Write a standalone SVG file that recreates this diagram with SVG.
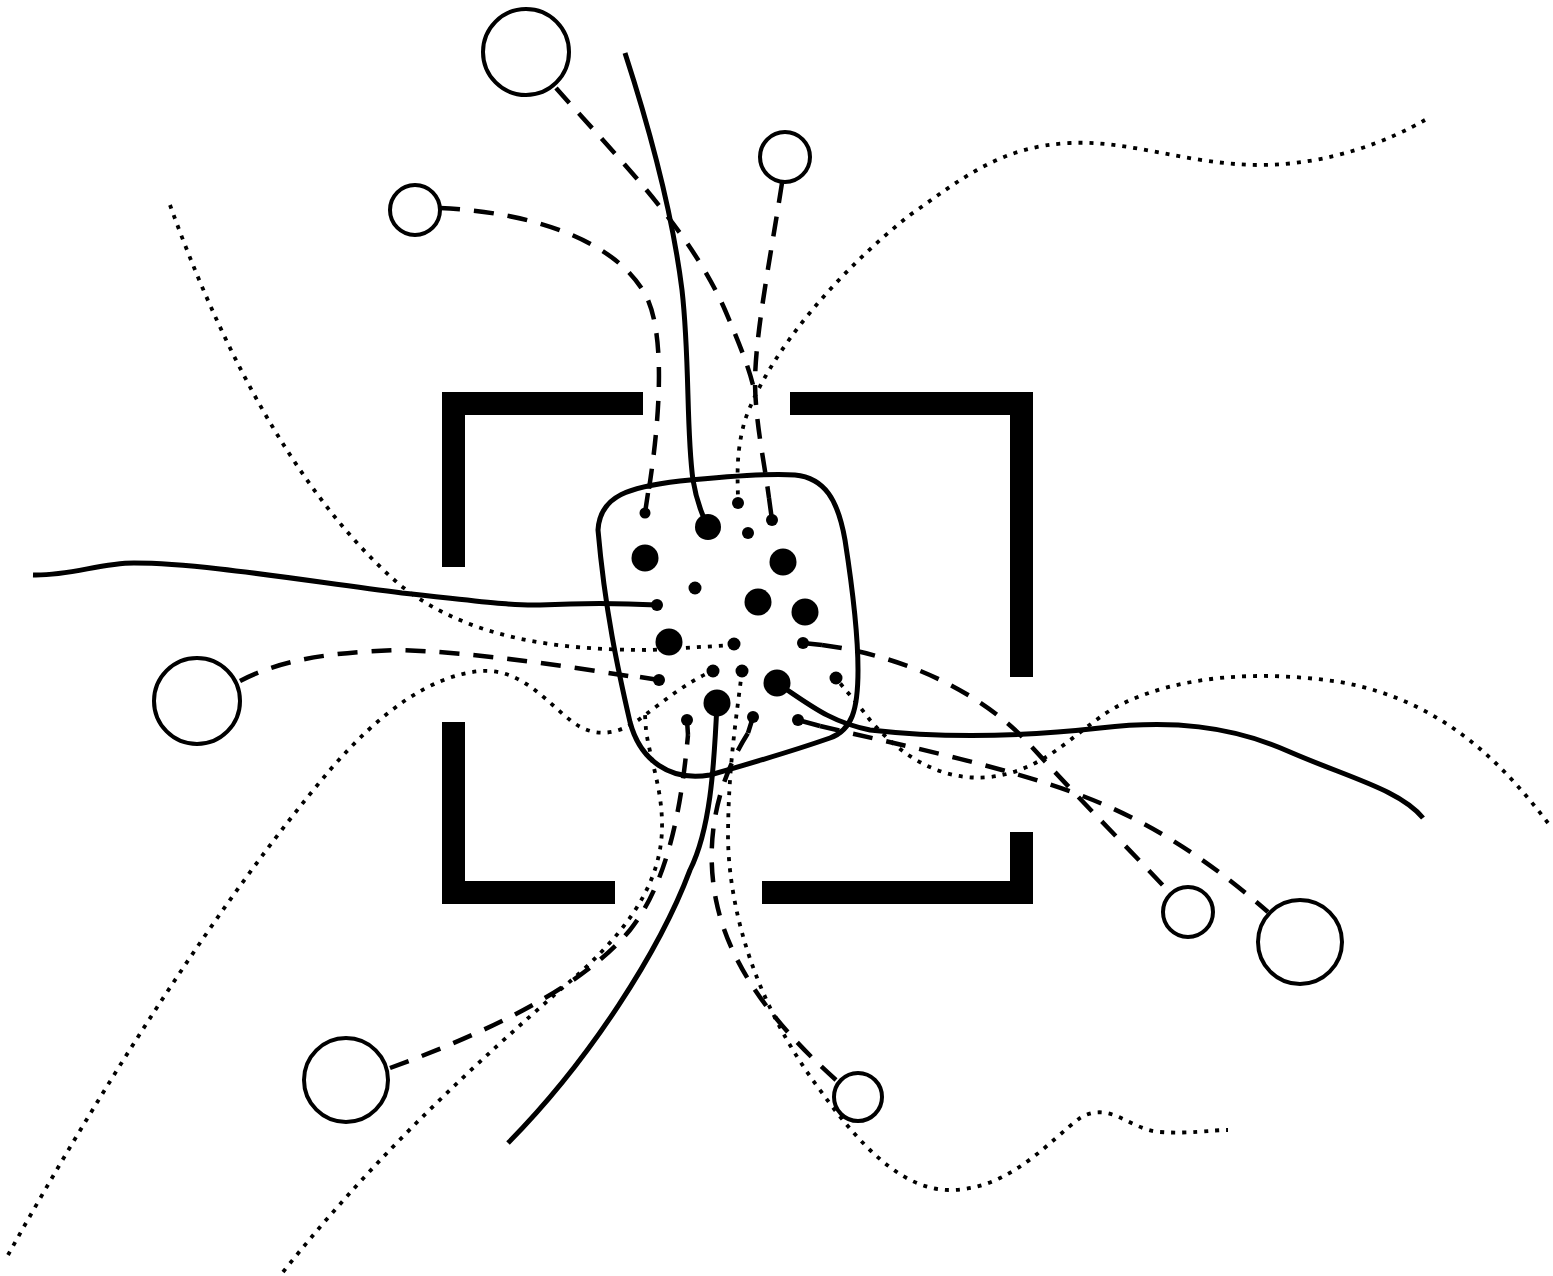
<svg xmlns="http://www.w3.org/2000/svg" width="1553" height="1276" viewBox="0 0 1553 1276">
<style>
.bk{fill:#000}
.node{fill:#fff;stroke:#000;stroke-width:4}
.dot{fill:#000}
.solid{fill:none;stroke:#000;stroke-width:5;stroke-linecap:butt}
.stem{fill:none;stroke:#000;stroke-width:4.5}
.dash{fill:none;stroke:#000;stroke-width:4.5;stroke-dasharray:20 14}
.dots{fill:none;stroke:#000;stroke-width:3.8;stroke-dasharray:4 7}
.blob{fill:none;stroke:#000;stroke-width:5}
</style>
<rect width="1553" height="1276" fill="#fff"/>
<g id="frame">
<path class="bk" d="M442,392H643V415H465V567H442Z"/>
<path class="bk" d="M790,392H1033V677H1010V415H790Z"/>
<path class="bk" d="M442,722H465V881H615V904H442Z"/>
<path class="bk" d="M762,881H1010V832H1033V904H762Z"/>
</g>
<g id="cell">
<path class="blob" d="M598,530 C600,495 630,487 680,481 C730,476 770,473 795,475 C825,478 838,500 845,540 C852,585 858,630 858,670 C858,710 852,730 830,738 C790,752 745,765 710,775 C670,782 640,760 630,722 C618,670 605,610 598,530 Z"/>
</g>
<g id="connectors">
<!-- dotted -->
<path class="dots" d="M1425,120 C1390,140 1330,165 1260,165 C1190,165 1130,140 1070,143 C1000,146 960,180 910,215 C840,270 770,350 745,420 C735,455 738,480 738,503"/>
<path class="dots" d="M170,205 C215,330 290,490 400,585 C470,640 560,650 650,650 L734,645"/>
<path class="dots" d="M8,1255 C100,1090 220,900 330,770 C380,712 430,676 480,671 C520,668 545,700 570,720 C595,740 620,735 645,715 C665,700 690,680 713,671"/>
<path class="dots" d="M283,1272 C380,1150 480,1060 560,990 C620,940 660,890 662,830 C663,790 650,760 646,730 L645,715"/>
<path class="dots" d="M742,671 C736,720 728,770 728,840 C730,920 760,1010 820,1090 C870,1160 910,1190 950,1190 C1010,1190 1050,1140 1080,1118 C1110,1100 1130,1130 1160,1132 C1190,1134 1210,1130 1228,1130"/>
<path class="dots" d="M1548,823 C1500,760 1440,700 1340,682 C1260,670 1180,675 1120,705 C1080,725 1050,770 990,777 C940,782 900,755 870,720 C855,700 845,690 836,678"/>
<!-- dashed -->
<path class="dash" d="M556,88 C620,160 690,230 725,310 C740,345 752,375 755,395"/>
<path class="dash" d="M782,183 C770,260 756,330 755,380 C755,420 764,460 769,498"/>
<path class="dash" d="M440,208 C530,212 620,240 648,300 C665,340 660,420 648,495"/>
<path class="dash" d="M240,681 C280,660 330,652 400,650 C470,652 560,665 640,678"/>
<path class="dash" d="M390,1068 C480,1035 580,990 630,930 C670,880 682,800 688,735"/>
<path class="dash" d="M836,1080 C780,1030 730,970 716,900 C706,850 712,790 748,733"/>
<path class="dash" d="M822,645 C900,655 980,690 1030,745 C1080,800 1130,850 1170,893"/>
<path class="dash" d="M820,726 C900,745 1000,765 1080,795 C1160,825 1220,870 1268,912"/>
<!-- stems -->
<path class="stem" d="M645,513 L648,493 M772,520 L769,498 M803,643 L822,645 M659,680 L640,677 M687,720 L688,735 M753,717 L748,733 M798,720 L820,726"/>
<!-- solid -->
<path class="solid" d="M625,53 C650,130 672,210 682,290 C690,360 686,430 693,480 Q697,505 708,527"/>
<path class="solid" d="M33,575 C70,576 100,563 134,563 C200,563 300,580 402,593 C470,600 510,606 540,605 C580,603 620,603 657,605"/>
<path class="solid" d="M777,683 C810,705 830,722 870,730 C940,738 1020,737 1100,728 C1170,720 1230,725 1290,752 C1350,778 1400,790 1423,818"/>
<path class="solid" d="M717,703 C714,770 710,830 690,870 C660,950 590,1060 508,1143"/>
</g>
<g id="nodes">
<circle id="n1" class="node" cx="526" cy="52" r="43"/>
<circle id="n2" class="node" cx="785" cy="157" r="25"/>
<circle id="n3" class="node" cx="415" cy="210" r="25"/>
<circle id="n4" class="node" cx="197" cy="701" r="43"/>
<circle id="n5" class="node" cx="346" cy="1080" r="42"/>
<circle id="n6" class="node" cx="858" cy="1097" r="24"/>
<circle id="n7" class="node" cx="1188" cy="912" r="25"/>
<circle id="n8" class="node" cx="1300" cy="942" r="42"/>
</g>
<g id="points">
<circle class="dot" cx="645" cy="513" r="5.5"/>
<circle class="dot" cx="708" cy="527" r="13"/>
<circle class="dot" cx="738" cy="503" r="6"/>
<circle class="dot" cx="772" cy="520" r="6"/>
<circle class="dot" cx="748" cy="533" r="6"/>
<circle class="dot" cx="645" cy="558" r="13.5"/>
<circle class="dot" cx="783" cy="562" r="13.5"/>
<circle class="dot" cx="695" cy="588" r="6.5"/>
<circle class="dot" cx="758" cy="602" r="13.5"/>
<circle class="dot" cx="805" cy="612" r="13.5"/>
<circle class="dot" cx="657" cy="605" r="6"/>
<circle class="dot" cx="669" cy="642" r="13.5"/>
<circle class="dot" cx="734" cy="644" r="6.5"/>
<circle class="dot" cx="803" cy="643" r="6"/>
<circle class="dot" cx="713" cy="671" r="6.5"/>
<circle class="dot" cx="742" cy="671" r="6.5"/>
<circle class="dot" cx="777" cy="683" r="13.5"/>
<circle class="dot" cx="836" cy="678" r="6.5"/>
<circle class="dot" cx="659" cy="680" r="6"/>
<circle class="dot" cx="717" cy="703" r="13.5"/>
<circle class="dot" cx="687" cy="720" r="6"/>
<circle class="dot" cx="753" cy="717" r="6"/>
<circle class="dot" cx="798" cy="720" r="6"/>
</g>
</svg>
